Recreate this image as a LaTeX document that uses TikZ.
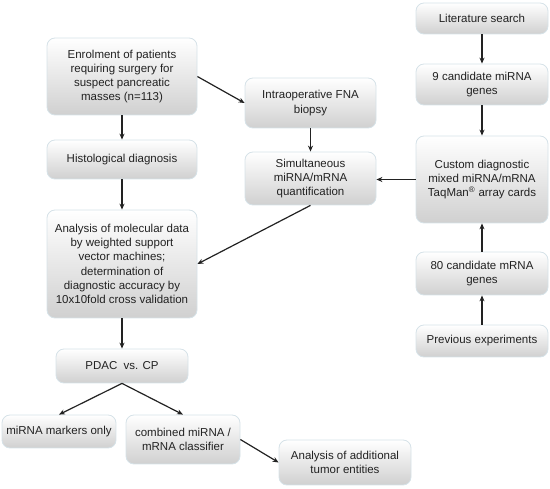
\documentclass[tikz,border=0pt]{standalone}
\usepackage{fontspec}
\setmainfont{Liberation Sans}
\usetikzlibrary{arrows.meta}
\definecolor{boxline}{RGB}{214,226,232}
\definecolor{boxbot}{RGB}{208,208,208}
\definecolor{ink}{RGB}{34,34,34}
\tikzset{
  box/.style={draw=boxline, line width=0.8pt, rounded corners=8pt, top color=white, bottom color=boxbot,
    align=center, inner sep=0pt, text=ink, font=\fontsize{11.5}{14.3}\selectfont},
  conn/.style={draw=ink, line width=1.2pt, -{Stealth[length=6pt,width=5pt]}}
}
\begin{document}
\begin{tikzpicture}[x=1pt,y=-1pt]
\useasboundingbox (0,0) rectangle (550,489);
\node[box, minimum width=150pt, minimum height=77pt] (enrol) at (122,76.5) {Enrolment of patients\\requiring surgery for\\suspect pancreatic\\masses (n=113)};
\node[box, minimum width=150pt, minimum height=39pt] (histo) at (122,159.5) {Histological diagnosis};
\node[box, minimum width=150pt, minimum height=108pt] (anal) at (122,264) {Analysis of molecular data\\by weighted support\\vector machines;\\determination of\\diagnostic accuracy by\\10x10fold cross validation};
\node[box, minimum width=132pt, minimum height=34pt] (pdac) at (122,366) {PDAC\ \ vs. CP};
\node[box, minimum width=114pt, minimum height=33pt] (mirna) at (59,431.5) {miRNA markers only};
\node[box, minimum width=114pt, minimum height=49pt] (comb) at (183,439.5) {combined miRNA /\\mRNA classifier};
\node[box, minimum width=132pt, minimum height=45pt] (addl) at (345,462.5) {Analysis of additional\\tumor entities};
\node[box, minimum width=131pt, minimum height=50pt] (fna) at (310.5,103) {Intraoperative FNA\\biopsy};
\node[box, minimum width=131pt, minimum height=53pt] (simul) at (310.5,178.5) {Simultaneous\\miRNA/mRNA\\quantification};
\node[box, minimum width=132pt, minimum height=31pt] (lit) at (482,18.5) {Literature search};
\node[box, minimum width=132pt, minimum height=41pt] (c9) at (482,84.5) {9 candidate miRNA\\genes};
\node[box, minimum width=132pt, minimum height=87pt] (custom) at (482,179.5) {Custom diagnostic\\mixed miRNA/mRNA\\TaqMan\textsuperscript{®} array cards};
\node[box, minimum width=132pt, minimum height=43pt] (c80) at (482,273.5) {80 candidate mRNA\\genes};
\node[box, minimum width=132pt, minimum height=32pt] (prev) at (482,341) {Previous experiments};

\draw[conn] (enrol) -- (histo);
\draw[conn] (histo) -- (anal);
\draw[conn] (anal) -- (pdac);
\draw[conn] (pdac.south) -- (mirna.north);
\draw[conn] (pdac.south) -- (comb.north);
\draw[conn] (comb.east) -- (addl.west);
\draw[conn] (enrol.east) -- (fna.west);
\draw[conn] (fna) -- (simul);
\draw[conn] (simul.south) -- (anal.east);
\draw[conn] (custom.west) -- (custom.west -| simul.east);
\draw[conn] (lit) -- (c9);
\draw[conn] (c9) -- (custom);
\draw[conn] (c80) -- (custom);
\draw[conn] (prev) -- (c80);
\end{tikzpicture}
\end{document}
